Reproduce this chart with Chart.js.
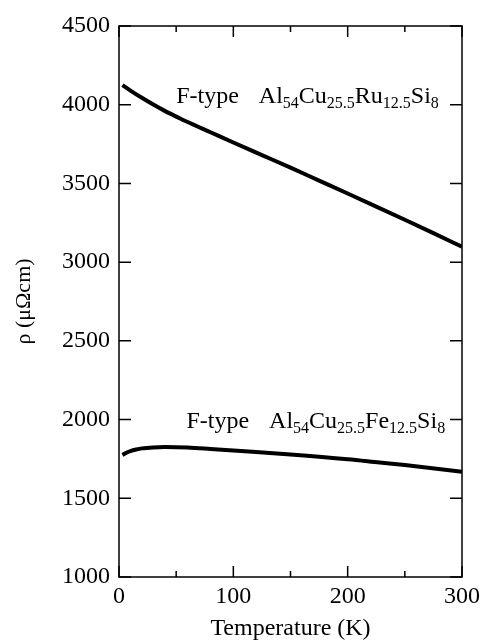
<!DOCTYPE html>
<html>
<head>
<meta charset="utf-8">
<script src="https://cdn.jsdelivr.net/npm/chart.js@4/dist/chart.umd.min.js"></script>
<style>
  html, body { margin: 0; padding: 0; background: #fff; }
  #wrap { width: 485px; height: 641px; }
</style>
</head>
<body>
<div id="wrap"><canvas id="chart" width="485" height="641"></canvas></div>
<script>
// temperature (K) and resistivity (µΩcm)
const ruTemps = [3, 10, 20, 30, 40, 53, 60, 80, 100, 125, 150, 175, 200, 225, 250, 275, 300];
const ruRho = [4125, 4090, 4044, 4001, 3961, 3914, 3890, 3825, 3760, 3680, 3600, 3518, 3436, 3353, 3269, 3184, 3098];

const feTemps = [3, 6, 10, 15, 20, 30, 40, 60, 80, 100, 150, 200, 228, 250, 300];
const feRho = [1775, 1788, 1800, 1810, 1817, 1823, 1825, 1822, 1813, 1803, 1778, 1748, 1727, 1711, 1669];

const xTicks = [0, 50, 100, 150, 200, 250, 300];
const yTicks = [1000, 1500, 2000, 2500, 3000, 3500, 4000, 4500];

const labels = [
  { x: 50, y: 4010, alloy: [['Al', '54'], ['Cu', '25.5'], ['Ru', '12.5'], ['Si', '8']] },
  { x: 59, y: 1946, alloy: [['Al', '54'], ['Cu', '25.5'], ['Fe', '12.5'], ['Si', '8']] }
];

const serif = '"Liberation Serif", "Times New Roman", serif';

function toPoints(xs, ys) {
  return xs.map((x, i) => ({ x: x, y: ys[i] }));
}

// box, inward ticks on all four sides, and the formula labels
const framePlugin = {
  id: 'frame',
  afterDraw(chart) {
    const { ctx, chartArea: a, scales } = chart;
    const xs = scales.x, ys = scales.y;
    ctx.save();
    ctx.strokeStyle = '#000';
    ctx.lineWidth = 1.5;
    ctx.strokeRect(a.left, a.top, a.right - a.left, a.bottom - a.top);

    ctx.beginPath();
    xTicks.forEach((t) => {
      const px = xs.getPixelForValue(t);
      const len = t % 100 === 0 ? 11 : 6;
      ctx.moveTo(px, a.bottom); ctx.lineTo(px, a.bottom - len);
      ctx.moveTo(px, a.top); ctx.lineTo(px, a.top + len);
    });
    yTicks.forEach((v) => {
      const py = ys.getPixelForValue(v);
      ctx.moveTo(a.left, py); ctx.lineTo(a.left + 12, py);
      ctx.moveTo(a.right, py); ctx.lineTo(a.right - 12, py);
    });
    ctx.stroke();

    ctx.fillStyle = '#000';
    ctx.textBaseline = 'alphabetic';
    ctx.textAlign = 'left';
    labels.forEach((lab) => {
      let px = xs.getPixelForValue(lab.x);
      const py = ys.getPixelForValue(lab.y);
      ctx.font = '24px ' + serif;
      ctx.fillText('F-type', px, py);
      px += ctx.measureText('F-type').width + 20;
      lab.alloy.forEach(([el, sub]) => {
        ctx.font = '24px ' + serif;
        ctx.fillText(el, px, py);
        px += ctx.measureText(el).width;
        ctx.font = '16px ' + serif;
        ctx.fillText(sub, px, py + 5);
        px += ctx.measureText(sub).width;
      });
    });
    ctx.restore();
  }
};

const lineStyle = {
  borderColor: '#000',
  borderWidth: 4,
  pointRadius: 0,
  fill: false,
  cubicInterpolationMode: 'monotone'
};

new Chart(document.getElementById('chart'), {
  type: 'line',
  data: {
    datasets: [
      Object.assign({ label: 'Ru', data: toPoints(ruTemps, ruRho) }, lineStyle),
      Object.assign({ label: 'Fe', data: toPoints(feTemps, feRho) }, lineStyle)
    ]
  },
  options: {
    responsive: false,
    animation: false,
    events: [],
    layout: { padding: { top: 26, right: 20, left: 0, bottom: 0 } },
    plugins: { legend: { display: false }, tooltip: { enabled: false } },
    scales: {
      x: {
        type: 'linear',
        min: 0,
        max: 300,
        grid: { display: false, drawTicks: false },
        border: { display: false },
        ticks: {
          stepSize: 100,
          padding: 5,
          color: '#000',
          maxRotation: 0,
          font: { family: serif, size: 24 },
          callback: (v) => String(v)
        },
        title: {
          display: true,
          text: 'Temperature (K)',
          color: '#000',
          padding: { top: 0, bottom: 0 },
          font: { family: serif, size: 24, lineHeight: 1 }
        },
        afterFit(scale) { scale.height = 64; }
      },
      y: {
        type: 'linear',
        min: 1000,
        max: 4500,
        grid: { display: false, drawTicks: false },
        border: { display: false },
        ticks: {
          stepSize: 500,
          padding: 9,
          color: '#000',
          font: { family: serif, size: 24 },
          callback: (v) => String(v)
        },
        title: {
          display: true,
          text: 'ρ (μΩcm)',
          color: '#000',
          padding: { top: 13, bottom: 0 },
          font: { family: serif, size: 22, lineHeight: 1 }
        },
        afterFit(scale) { scale.width = 119; }
      }
    }
  },
  plugins: [framePlugin]
});
</script>
</body>
</html>
